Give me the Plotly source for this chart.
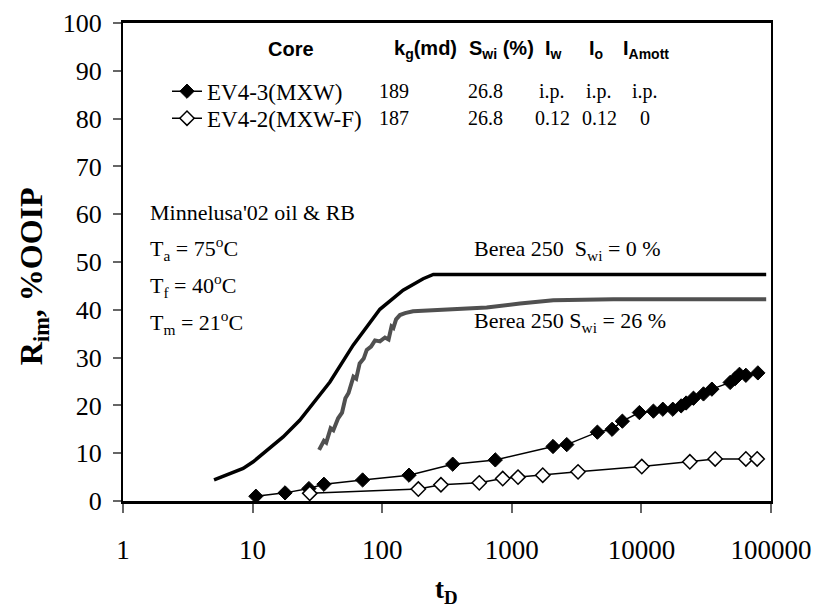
import plotly.graph_objects as go

# Imbibition recovery vs dimensionless time
ev43_td = [10.6, 17.8, 27.2, 35.5, 70.6, 161, 350, 746, 2080, 2655, 4575, 5940, 7130,
           9650, 12380, 14630, 17470, 20270, 22130, 25220, 30130, 34980, 48400, 52900,
           57100, 64000, 79200]
ev43_r = [1.0, 1.7, 2.6, 3.5, 4.4, 5.4, 7.7, 8.6, 11.4, 11.8, 14.4, 15.0, 16.7,
          18.5, 18.8, 19.2, 19.2, 19.9, 20.5, 21.5, 22.4, 23.4, 24.8, 25.6,
          26.5, 26.3, 26.8]

ev42_td = [27.6, 190, 284, 561, 851, 1117, 1733, 3245, 10070, 23650, 37080, 64000, 78200]
ev42_r = [1.6, 2.5, 3.4, 3.8, 4.7, 5.0, 5.4, 6.1, 7.2, 8.2, 8.8, 8.8, 8.8]

berea0_td = [5.04, 8.45, 10.1, 17.2, 23.1, 27.7, 39.5, 59.7, 96, 145, 207, 248, 91800]
berea0_r = [4.4, 6.8, 8.2, 13.4, 16.9, 19.6, 24.9, 32.6, 40.1, 44.1, 46.5, 47.4, 47.4]

berea26_td = [32.6, 35.5, 37, 40, 42, 45.7, 49, 52, 55, 60, 63, 67, 72, 76, 82, 88, 96,
              105, 112, 118, 122, 128, 137, 150, 173, 248, 353, 640, 1157, 2090, 6080, 91800]
berea26_r = [10.7, 12.6, 12.2, 15.2, 14.8, 17.3, 18.5, 21.5, 22.6, 26.0, 25.6, 28.8, 29.8,
             31.6, 32.3, 33.6, 33.4, 34.2, 33.8, 36.5, 36.2, 38.0, 38.9, 39.3, 39.7, 39.9,
             40.3, 40.5, 41.3, 42.0, 42.2, 42.2]

x_ticks = [1, 10, 100, 1000, 10000, 100000]
x_ticktext = ["1", "10", "100", "1000", "10000", "100000"]

# table next to the legend
table_header = ["Core", "k<sub>g</sub>(md)", "S<sub>wi</sub> (%)", "I<sub>w</sub>",
                "I<sub>o</sub>", "I<sub>Amott</sub>"]
row_ev43 = ["189", "26.8", "i.p.", "i.p.", "i.p."]
row_ev42 = ["187", "26.8", "0.12", "0.12", "0"]

SERIF = "Times New Roman, Liberation Serif, serif"
SANS = "Arial, Liberation Sans, sans-serif"

W, H = 815, 611
PL, PR, PT, PB = 123, 771, 22.7, 501


def fx(px):
    return (px - PL) / (PR - PL)


def fy(py):
    return (PB - py) / (PB - PT)


fig = go.Figure()

fig.add_trace(go.Scatter(x=berea0_td, y=berea0_r, mode="lines", showlegend=False,
                         line=dict(color="black", width=3.5)))
fig.add_trace(go.Scatter(x=berea26_td, y=berea26_r, mode="lines", showlegend=False,
                         line=dict(color="#505050", width=4)))
fig.add_trace(go.Scatter(x=ev43_td, y=ev43_r, mode="lines+markers", name="EV4-3(MXW)",
                         legend="legend",
                         line=dict(color="black", width=1.5),
                         marker=dict(symbol="diamond", size=11, color="black",
                                     line=dict(color="black", width=1))))
fig.add_trace(go.Scatter(x=ev42_td, y=ev42_r, mode="lines+markers", name="EV4-2(MXW-F)",
                         legend="legend2",
                         line=dict(color="black", width=1.5),
                         marker=dict(symbol="diamond", size=11, color="white",
                                     line=dict(color="black", width=1.5))))

ann = []


def note(text, px, py, anchor, family, size, angle=0):
    ann.append(dict(x=fx(px), y=fy(py), xref="paper", yref="paper", text=text,
                    showarrow=False, xanchor=anchor, yanchor="middle", textangle=angle,
                    font=dict(family=family, size=size, color="black")))


# table header
header_x = [291, 425, 501, 553, 596, 646]
for txt, px in zip(table_header, header_x):
    note("<b>" + txt + "</b>", px, 49, "center", SANS, 20)

col_x = [394, 485, 552, 599, 645]
for row, py in ((row_ev43, 91), (row_ev42, 118)):
    for txt, px in zip(row, col_x):
        note(txt, px, py, "center", SERIF, 20)

# conditions
cond = [("Minnelusa'02 oil & RB", 212),
        ("T<sub>a</sub> = 75<sup>o</sup>C", 248),
        ("T<sub>f</sub> = 40<sup>o</sup>C", 285),
        ("T<sub>m</sub> = 21<sup>o</sup>C", 322)]
for txt, py in cond:
    note(txt, 148, py, "left", SERIF, 22)

# curve labels
note("Berea 250  S<sub>wi</sub> = 0 %", 472, 250, "left", SERIF, 22)
note("Berea 250 S<sub>wi</sub> = 26 %", 472, 322, "left", SERIF, 22)

# axis titles
note("<b>R<sub>im</sub>, %OOIP</b>", 33, 276, "center", SERIF, 32, angle=-90)
note("<b>t<sub>D</sub></b>", 446, 591, "center", SERIF, 27)

legend_style = dict(xanchor="left", yanchor="middle", bgcolor="rgba(0,0,0,0)",
                    borderwidth=0, font=dict(family=SERIF, size=23, color="black"))

fig.update_layout(
    width=W, height=H,
    margin=dict(l=PL, r=W - PR, t=PT, b=H - PB),
    paper_bgcolor="white", plot_bgcolor="white",
    font=dict(family=SERIF, color="black"),
    annotations=ann,
    legend=dict(x=fx(167), y=fy(91), **legend_style),
    legend2=dict(x=fx(167), y=fy(118), **legend_style),
    xaxis=dict(type="log", range=[0, 5], tickvals=x_ticks, ticktext=x_ticktext,
               automargin=False,
               showgrid=False, zeroline=False, showline=True, linecolor="black",
               linewidth=2.5, mirror=True, ticks="outside", ticklen=9, tickwidth=1.5,
               tickcolor="#666", ticklabelstandoff=14,
               tickfont=dict(family=SERIF, size=27, color="black")),
    yaxis=dict(range=[0, 100], dtick=10, showgrid=False, zeroline=False, showline=True,
               automargin=False,
               linecolor="black", linewidth=2, mirror=True, ticks="outside", ticklen=8,
               tickwidth=1.5, tickcolor="#666", ticklabelstandoff=6,
               tickfont=dict(family=SERIF, size=26, color="black")),
)

fig.write_html("out.html")
